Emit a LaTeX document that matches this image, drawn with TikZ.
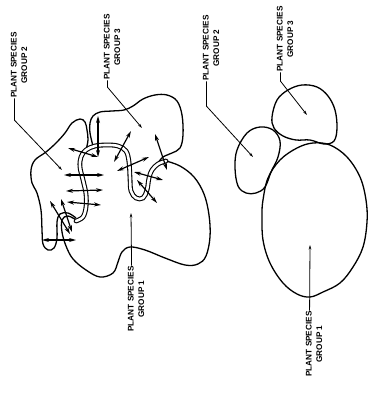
\documentclass[tikz,border=0pt]{standalone}
\usepackage{fontspec}
\usepackage{tikz}
\usetikzlibrary{arrows.meta,calc}
\newfontfamily\labelfont{Liberation Sans}[BoldFont=Liberation Sans Bold]

\begin{document}
\begin{tikzpicture}[
    x=1pt, y=-1pt,
    outline/.style={draw, line width=1.3pt, line join=round},
    band/.style={draw, line width=1.1pt, double, double distance=2.6pt, line cap=round},
    flow/.style={<->, >={Stealth[length=7pt,width=4pt]}, line width=1.2pt},
    leader/.style={-{Stealth[length=4.5pt,width=2.6pt]}, line width=0.8pt},
    label/.style={rotate=90, align=center, inner sep=0.5pt, font=\labelfont\bfseries\fontsize{8.2}{10.5}\selectfont}
]
\useasboundingbox (0,0) rectangle (381,393);

% Mixed stand (left)
\draw[outline] plot[smooth, tension=0.6] coordinates {(93,146) (90,133) (90,123) (93,116) (100,112) (112,111) (124,110) (133,106) (143,99) (155,95) (167,95) (177,101) (182,115) (183,135) (180,148) (172,153) (163,157) (158,163)};
\draw[outline] plot[smooth, tension=0.6] coordinates {(86,150) (88,140) (87,130) (85,122) (80,119) (72,123) (65,133) (56,143) (46,152) (35,160) (31,170) (32,183) (37,193) (41,210) (42,230) (43,244) (48,250) (54,248) (57,238) (57,222) (60,214) (68,213) (76,218)};
\draw[outline] plot[smooth, tension=0.6] coordinates {(78,221) (68,216) (62,220) (62,232) (66,246) (73,259) (86,270) (100,277) (113,273) (118,262) (122,252) (130,247) (145,250) (165,258) (185,265) (198,264) (206,256) (210,237) (209,215) (204,194) (194,177) (180,166) (166,161)};

% Ecotone band
\draw[band] plot[smooth, tension=0.6] coordinates {(76,221) (83,217) (86,207) (86,194) (83,180) (80,167) (81,157) (86,150) (95,146) (107,145) (118,146) (126,151) (129,162) (130,178) (131,191) (136,198) (143,198) (147,190) (149,178) (152,170) (158,164) (166,161)};

% Exchange across the band
\draw[flow] (98,116) -- (98,157);
\draw[flow] (68,148) -- (98,157);
\draw[flow] (114,162) -- (131,131);
\draw[flow] (117,171) -- (149,157);
\draw[flow] (64,175) -- (104,175);
\draw[flow] (66,191) -- (103,190);
\draw[flow] (67,202) -- (101,205);
\draw[flow] (42,240) -- (76,240);
\draw[flow] (50,201) -- (70,234);
\draw[flow] (61,199) -- (72,232);
\draw[flow] (155,134) -- (167,170);
\draw[flow] (134,172) -- (163,180);
\draw[flow] (137,180) -- (157,203);

% Separate stands (right)
\draw[outline] plot[smooth cycle, tension=0.6] coordinates {(237,150) (247,133) (260,127) (273,130) (280,141) (278,157) (271,172) (265,187) (256,193) (246,193) (238,186) (235,168)};
\draw[outline] plot[smooth cycle, tension=0.6] coordinates {(272,117) (277,100) (288,90) (302,85) (317,87) (328,96) (335,110) (337,128) (334,141) (324,144) (310,140) (296,140) (283,136) (274,128)};
\draw[outline] plot[smooth cycle, tension=0.6] coordinates {(263,200) (268,178) (280,160) (297,148) (313,143) (330,145) (347,157) (360,177) (366,200) (367,222) (363,247) (353,267) (340,283) (323,292) (310,297) (297,294) (283,283) (270,263) (263,240) (262,215)};

% Labels
\node[label] (mix2) at (19,65) {PLANT SPECIES\\GROUP 2};
\node[label] (mix3) at (112,47) {PLANT SPECIES\\GROUP 3};
\node[label] (mix1) at (136,299) {PLANT SPECIES\\GROUP 1};
\node[label] (sep2) at (211,48) {PLANT SPECIES\\GROUP 2};
\node[label] (sep3) at (285,39) {PLANT SPECIES\\GROUP 3};
\node[label] (sep1) at (314,344) {PLANT SPECIES\\GROUP 1};

\coordinate (mix2tip) at (62,170);
\coordinate (mix3tip) at (142,128);
\coordinate (mix1tip) at (131,213);
\coordinate (sep2tip) at (253,157);
\coordinate (sep3tip) at (307,115);
\coordinate (sep1tip) at (310,245);

% Leaders
\draw[leader] ($(mix2.north west)!0.25!(mix2.south west)$) -- ++(0,22) -- (mix2tip);
\draw[leader] ($(mix3.north west)!0.25!(mix3.south west)$) -- ++(0,7) -- (mix3tip);
\draw[leader] ($(mix1.north east)!0.25!(mix1.south east)$) -- (mix1tip);
\draw[leader] ($(sep2.north west)!0.25!(sep2.south west)$) -- ++(0,25) -- (sep2tip);
\draw[leader] ($(sep3.north west)!0.25!(sep3.south west)$) -- ++(0,9) -- (sep3tip);
\draw[leader] ($(sep1.north east)!0.25!(sep1.south east)$) -- (sep1tip);

\end{tikzpicture}
\end{document}
